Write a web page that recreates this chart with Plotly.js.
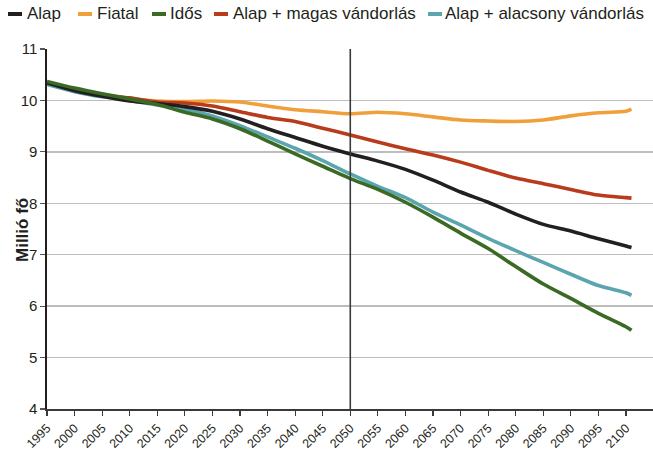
<!DOCTYPE html>
<html>
<head>
<meta charset="utf-8">
<script src="https://cdn.plot.ly/plotly-3.0.1.min.js"></script>
<style>html,body{margin:0;padding:0;background:#fff;}#chart{width:653px;height:451px;}</style>
</head>
<body>
<div id="chart"></div>
<script>
// ---- data ----
const years = [1995,2000,2005,2010,2015,2020,2025,2030,2035,2040,2045,2050,2055,2060,2065,2070,2075,2080,2085,2090,2095,2100,2101];
const alap      = [10.34,10.19,10.08,9.99,9.94,9.88,9.79,9.64,9.45,9.28,9.11,8.96,8.82,8.66,8.45,8.22,8.02,7.79,7.59,7.46,7.31,7.17,7.14];
const fiatal    = [10.33,10.18,10.08,10.02,9.99,9.98,9.99,9.97,9.89,9.82,9.78,9.74,9.77,9.74,9.68,9.62,9.60,9.59,9.62,9.70,9.76,9.79,9.83];
const idos      = [10.37,10.24,10.13,10.03,9.92,9.77,9.64,9.45,9.21,8.96,8.72,8.48,8.27,8.02,7.73,7.42,7.12,6.77,6.43,6.15,5.86,5.60,5.53];
const magas     = [10.35,10.20,10.10,10.05,9.97,9.95,9.89,9.78,9.67,9.59,9.46,9.33,9.19,9.06,8.94,8.80,8.64,8.49,8.38,8.27,8.16,8.11,8.10];
const alacsony  = [10.31,10.17,10.07,10.00,9.91,9.83,9.70,9.51,9.29,9.07,8.83,8.57,8.33,8.11,7.83,7.58,7.32,7.08,6.85,6.62,6.40,6.26,6.21];
const seriesNames = ["Alap","Fiatal","Idős","Alap + magas vándorlás","Alap + alacsony vándorlás"];
const seriesValues = [alap, fiatal, idos, magas, alacsony];
const seriesColors = ["#231f20","#f0a03a","#3b6a24","#b83c1c","#5aa5ae"];
const drawOrder = [1,3,4,0,2];
const dividerYear = 2050;
const yTitle = "Millió fő";

// ---- layout geometry (px) ----
const W = 653, H = 451, L = 47, R = 0, T = 49, B = 42;
const PW = W - L - R, PH = H - T - B;
const px2x = p => (p - L) / PW;
const py2y = p => (H - B - p) / PH;
const legendSwatchX = [8, 78, 152, 214, 428];
const legendTextX = [25, 95, 168, 231, 443];
const legendY = 14;
const yTitlePos = [22, 230];

const traces = drawOrder.map(i => ({
  x: years, y: seriesValues[i], type: 'scatter', mode: 'lines',
  name: seriesNames[i], showlegend: false,
  line: {color: seriesColors[i], width: 3.6, shape: 'spline', smoothing: 0.8},
  hoverinfo: 'skip'
}));

const shapes = [{
  type: 'line', xref: 'x', yref: 'paper', x0: dividerYear, x1: dividerYear, y0: 0, y1: 1,
  line: {color: '#3a3a3a', width: 1.6}
}];
const annotations = [];
seriesNames.forEach((n, i) => {
  shapes.push({type: 'line', xref: 'paper', yref: 'paper',
    x0: px2x(legendSwatchX[i]), x1: px2x(legendSwatchX[i] + 14),
    y0: py2y(legendY), y1: py2y(legendY),
    line: {color: seriesColors[i], width: 4}});
  annotations.push({xref: 'paper', yref: 'paper', x: px2x(legendTextX[i]), y: py2y(legendY),
    xanchor: 'left', yanchor: 'middle', showarrow: false, text: n,
    font: {family: 'Liberation Sans, Arial, sans-serif', size: 17, color: '#231f20'}});
});
annotations.push({xref: 'paper', yref: 'paper', x: px2x(yTitlePos[0]), y: py2y(yTitlePos[1]),
  xanchor: 'center', yanchor: 'middle', showarrow: false, textangle: -90, text: yTitle,
  font: {family: 'Liberation Sans, Arial, sans-serif', size: 17, color: '#231f20', weight: 'bold'}});

const tickFont = {family: 'Liberation Sans Narrow, Liberation Sans, Arial, sans-serif', size: 15, color: '#231f20'};

const layout = {
  width: W, height: H,
  margin: {l: L, r: R, t: T, b: B, pad: 0},
  paper_bgcolor: '#fff', plot_bgcolor: '#fff',
  showlegend: false,
  xaxis: {
    range: [1995, 2104.9], tickmode: 'linear', tick0: 1995, dtick: 5,
    tickangle: -45, tickfont: Object.assign({}, tickFont, {size: 12.5}),
    showgrid: false, zeroline: false, showline: true, linecolor: '#3a3a3a', linewidth: 2,
    ticks: 'outside', ticklen: 5, tickcolor: '#3a3a3a', tickwidth: 1.2, automargin: false
  },
  yaxis: {
    range: [4, 11], tickmode: 'linear', tick0: 4, dtick: 1, tickfont: tickFont,
    showgrid: true, gridcolor: '#bdbdbd', gridwidth: 1.5, zeroline: false,
    showline: true, linecolor: '#231f20', linewidth: 1.6,
    ticks: 'outside', ticklen: 5, tickcolor: '#555', tickwidth: 1.2, automargin: false
  },
  shapes: shapes,
  annotations: annotations
};

Plotly.newPlot('chart', traces, layout, {displayModeBar: false, staticPlot: true});
</script>
</body>
</html>
